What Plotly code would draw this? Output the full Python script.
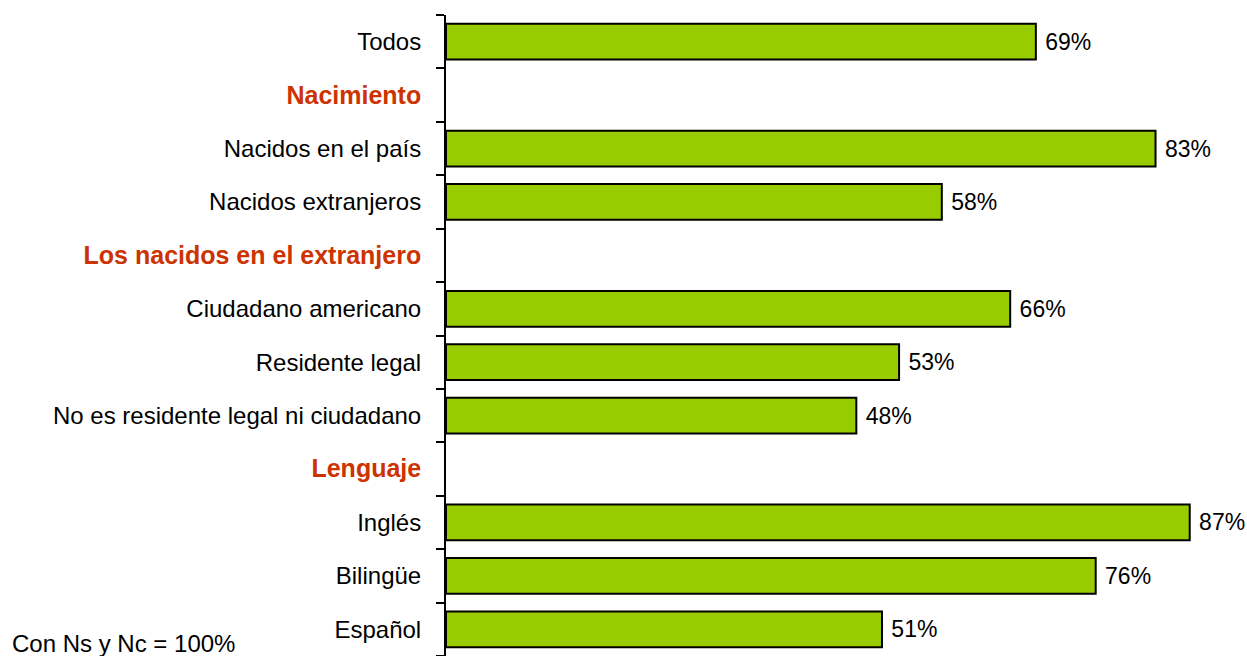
import plotly.graph_objects as go

# categorias (as linhas de cabeçalho não têm barra)
categorias = ["Todos", "Nacimiento", "Nacidos en el país", "Nacidos extranjeros",
              "Los nacidos en el extranjero", "Ciudadano americano", "Residente legal",
              "No es residente legal ni ciudadano", "Lenguaje", "Inglés", "Bilingüe", "Español"]
valores = [69, None, 83, 58, None, 66, 53, 48, None, 87, 76, 51]
cabecalhos = ["Nacimiento", "Los nacidos en el extranjero", "Lenguaje"]

VERDE = "#99CC00"
LARANJA = "#CC3300"
FONTE = "Liberation Sans, Arial, sans-serif"

ticktext = []
for c in categorias:
    if c in cabecalhos:
        ticktext.append(f'<b><span style="color:{LARANJA};font-size:25px">{c}</span></b>')
    else:
        ticktext.append(c)

fig = go.Figure()
fig.add_trace(go.Bar(
    x=valores,
    y=categorias,
    orientation="h",
    width=0.67,
    marker=dict(color=VERDE, line=dict(color="black", width=2)),
    text=[f" {v}%" if v is not None else "" for v in valores],
    textposition="outside",
    textfont=dict(color="black", size=23, family=FONTE),
    cliponaxis=False,
    hoverinfo="skip",
))

fig.update_layout(
    width=1247, height=656,
    margin=dict(l=446, r=0, t=15, b=0, autoexpand=False),
    plot_bgcolor="white", paper_bgcolor="white",
    font=dict(family=FONTE, size=24, color="black"),
    showlegend=False,
)
fig.update_xaxes(range=[0, 93.7], visible=False, automargin=False)
fig.update_yaxes(
    type="category",
    categoryorder="array", categoryarray=categorias,
    range=[11.5, -0.5],
    automargin=False,
    tickmode="array", tickvals=categorias, ticktext=ticktext,
    tickson="boundaries", ticks="outside", ticklen=8, tickwidth=2, tickcolor="black",
    showline=True, linecolor="black", linewidth=2,
    showgrid=False, zeroline=False,
    ticklabelstandoff=18,
    tickfont=dict(size=24, color="black", family=FONTE),
)

fig.add_annotation(
    text="Con Ns y Nc = 100%",
    xref="paper", yref="paper",
    x=-436 / 801, y=(656 - 643) / 641,
    xanchor="left", yanchor="middle",
    showarrow=False,
    font=dict(size=24, color="black", family=FONTE),
)

# tira a margem padrão do body para a figura ocupar a janela inteira
fig.write_html(
    "out.html",
    config={"displayModeBar": False},
    post_script="document.body.style.margin='0';document.body.style.overflow='hidden';",
)
